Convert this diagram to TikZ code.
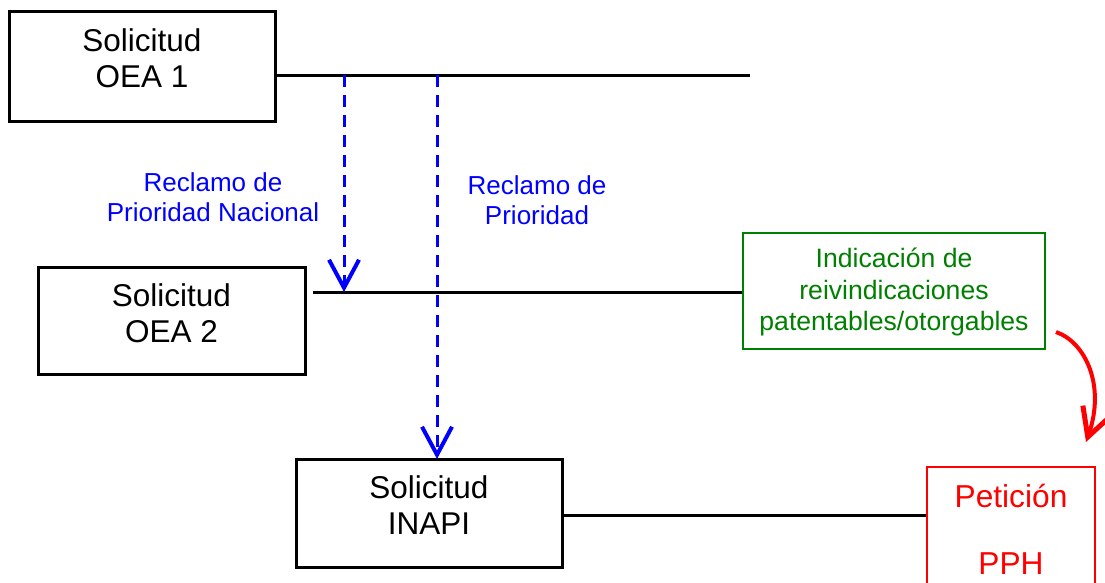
\documentclass[tikz,border=0pt]{standalone}
\usepackage{fontspec}
\setmainfont{Liberation Sans}
\usetikzlibrary{arrows.meta}
\definecolor{ogreen}{RGB}{0,128,0}
\definecolor{oblue}{RGB}{0,0,255}
\definecolor{ored}{RGB}{255,0,0}
\begin{document}
\begin{tikzpicture}[x=1pt,y=-1pt,
  box/.style={draw=black,line width=3pt,minimum width=#1,inner sep=0pt},
  bigtxt/.style={font=\fontsize{31.5}{36}\selectfont,align=center,inner sep=0pt},
  blutxt/.style={font=\fontsize{26}{30.5}\selectfont,align=center,text=oblue,inner sep=0pt},
  conn/.style={line width=3pt,black},
  dasharrow/.style={line width=3pt,oblue,dash pattern=on 12pt off 8pt,
    -{Straight Barb[length=28pt,width=30pt,line width=4pt]}},
]
\useasboundingbox (0,0) rectangle (1105,582);
\fill[white] (0,0) rectangle (1105,582);
% boxes
\node[box=266pt,minimum height=110pt] (o1) at (142,66) {};
\node[bigtxt] (t1) at (142,58) {Solicitud\\OEA 1};
\node[box=267pt,minimum height=107pt] (o2) at (171.5,320.5) {};
\node[bigtxt] (t2) at (171.5,313) {Solicitud\\OEA 2};
\node[box=266pt,minimum height=108pt] (o3) at (429,513) {};
\node[bigtxt] (t3) at (429,505) {Solicitud\\INAPI};
\node[draw=ogreen,line width=1.5pt,minimum width=302pt,minimum height=116pt,inner sep=0pt] (g) at (894,291) {};
\node[font=\fontsize{26.6}{31.5}\selectfont,text=ogreen,align=center,inner sep=0pt] (gt) at (894,292) {Indicación de\\reivindicaciones\\patentables/otorgables};
\begin{scope}
\clip (0,0) rectangle (1105,582);
\node[draw=ored,line width=1.5pt,minimum width=168pt,minimum height=134pt,inner sep=0pt] (r) at (1011,534) {};
\end{scope}
\node[font=\fontsize{31.7}{67}\selectfont,text=ored,align=center,inner sep=0pt] (rt) at (1011,529) {Petición\\PPH};
% timelines
\coordinate (l1s) at (275,75);
\coordinate (l1e) at (750,75);
\coordinate (l2s) at (313,292);
\coordinate (l3s) at (562,515);
\draw[conn] (l1s) -- (l1e);
\draw[conn] (l2s) -- (g.west |- l2s);
\draw[conn] (l3s) -- (r.west |- l3s);
% priority arrows
\coordinate (a1s) at (344,75);
\coordinate (a1e) at (344,292);
\coordinate (a2s) at (437,75);
\coordinate (a2e) at (437,459);
\draw[dasharrow] (a1s) -- (a1e);
\draw[dasharrow] (a2s) -- (a2e);
\node[blutxt] (b1) at (213,197) {Reclamo de\\Prioridad Nacional};
\node[blutxt] (b2) at (537,200) {Reclamo de\\Prioridad};
% red curve
\coordinate (cs) at (1056,332);
\coordinate (ce) at (1086,442);
\draw[ored,line width=4pt,-{Straight Barb[length=28pt,width=30pt,line width=5pt]}]
  (cs) .. controls (1085,342) and (1106,385) .. (ce);
\end{tikzpicture}
\end{document}
